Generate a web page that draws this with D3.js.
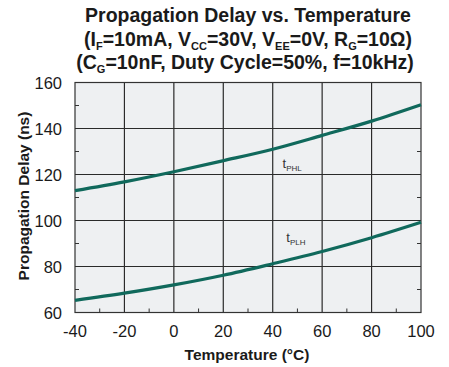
<!DOCTYPE html>
<html lang="en">
<head>
<meta charset="UTF-8">
<title>Propagation Delay vs. Temperature</title>
<script src="https://d3js.org/d3.v7.min.js"></script>
<style>
  body { margin: 0; background: #fff; }
  svg text { font-family: "Liberation Sans", Arial, sans-serif; fill: #1a1a1a; }
</style>
</head>
<body>
<svg width="449" height="367"></svg>
<script>
// data
var temps = [-40, -20, 0, 20, 40, 60, 80, 100];
var tPHL = [113, 116.8, 121.2, 126, 131, 137, 143.2, 150.3];
var tPLH = [65.3, 68.4, 72, 76.2, 81.2, 86.5, 92.5, 99.2];
var xTicks = [-40, -20, 0, 20, 40, 60, 80, 100];
var yTicks = [60, 80, 100, 120, 140, 160];
var curveLabels = [
  { main: "t", sub: "PHL", x: 44, y: 123 },
  { main: "t", sub: "PLH", x: 45.5, y: 90.8 }
];

var svg = d3.select("svg");
var m = { left: 75, right: 28, top: 82.5, bottom: 54.5 };
var W = 449 - m.left - m.right, H = 367 - m.top - m.bottom;

var x = d3.scaleLinear().domain([-40, 100]).range([0, W]);
var y = d3.scaleLinear().domain([60, 160]).range([H, 0]);

// title
var title = svg.append("text").attr("text-anchor", "middle")
  .style("font-weight", "bold").style("font-size", "19.5px");
title.append("tspan").attr("x", 248).attr("y", 22).text("Propagation Delay vs. Temperature");
var l2 = title.append("tspan").attr("x", 248).attr("y", 46);
l2.append("tspan").text("(I");
l2.append("tspan").attr("dy", 4).style("font-size", "11px").text("F");
l2.append("tspan").attr("dy", -4).text("=10mA, V");
l2.append("tspan").attr("dy", 4).style("font-size", "11px").text("CC");
l2.append("tspan").attr("dy", -4).text("=30V, V");
l2.append("tspan").attr("dy", 4).style("font-size", "11px").text("EE");
l2.append("tspan").attr("dy", -4).text("=0V, R");
l2.append("tspan").attr("dy", 4).style("font-size", "11px").text("G");
l2.append("tspan").attr("dy", -4).text("=10\u03A9)");
var l3 = title.append("tspan").attr("x", 245).attr("y", 69);
l3.append("tspan").text("(C");
l3.append("tspan").attr("dy", 4).style("font-size", "11px").text("G");
l3.append("tspan").attr("dy", -4).text("=10nF, Duty Cycle=50%, f=10kHz)");

var g = svg.append("g").attr("transform", "translate(" + m.left + "," + m.top + ")");

g.append("rect").attr("width", W).attr("height", H).attr("fill", "#eef0f2");

// grid
g.selectAll(".vg").data(xTicks.slice(1, -1)).enter().append("line")
  .attr("x1", function(d) { return x(d); }).attr("x2", function(d) { return x(d); })
  .attr("y1", 0).attr("y2", H).attr("stroke", "#2a2a2a").attr("stroke-width", 1.2);
g.selectAll(".hg").data(yTicks.slice(1, -1)).enter().append("line")
  .attr("y1", function(d) { return y(d); }).attr("y2", function(d) { return y(d); })
  .attr("x1", 0).attr("x2", W).attr("stroke", "#2a2a2a").attr("stroke-width", 1.2);

// minor ticks (inward)
var xMinor = d3.range(-30, 100, 20), yMinor = d3.range(70, 160, 20);
g.selectAll(".xm").data(xMinor).enter().append("line")
  .attr("x1", function(d) { return x(d); }).attr("x2", function(d) { return x(d); })
  .attr("y1", H).attr("y2", H - 4).attr("stroke", "#333");
g.selectAll(".ylm").data(yMinor).enter().append("line")
  .attr("y1", function(d) { return y(d); }).attr("y2", function(d) { return y(d); })
  .attr("x1", 0).attr("x2", 4).attr("stroke", "#333");
g.selectAll(".yrm").data(yMinor).enter().append("line")
  .attr("y1", function(d) { return y(d); }).attr("y2", function(d) { return y(d); })
  .attr("x1", W).attr("x2", W - 4).attr("stroke", "#333");

// frame
g.append("rect").attr("width", W).attr("height", H).attr("fill", "none")
  .attr("stroke", "#333").attr("stroke-width", 1.2);

// curves
var line = d3.line().x(function(d) { return x(d[0]); }).y(function(d) { return y(d[1]); })
  .curve(d3.curveMonotoneX);
[tPHL, tPLH].forEach(function(s) {
  g.append("path").datum(d3.zip(temps, s)).attr("d", line)
    .attr("fill", "none").attr("stroke", "#10695c").attr("stroke-width", 3.2);
});

// curve labels
curveLabels.forEach(function(c) {
  var t = g.append("text").attr("x", x(c.x)).attr("y", y(c.y)).style("font-size", "13px");
  t.append("tspan").style("fill", "#333").text(c.main);
  t.append("tspan").attr("dy", 3).style("font-size", "8px").style("fill", "#333").text(c.sub);
});

// tick labels
g.selectAll(".xl").data(xTicks).enter().append("text")
  .attr("x", function(d) { return x(d); }).attr("y", H + 24)
  .attr("text-anchor", "middle").style("font-size", "16.5px").text(function(d) { return d; });
g.selectAll(".yl").data(yTicks).enter().append("text")
  .attr("x", -13).attr("y", function(d) { return y(d) + 6; })
  .attr("text-anchor", "end").style("font-size", "16.5px").text(function(d) { return d; });

// axis titles
svg.append("text").attr("x", 247).attr("y", 360).attr("text-anchor", "middle")
  .style("font-weight", "bold").style("font-size", "15.5px").text("Temperature (\u00B0C)");
svg.append("text").attr("transform", "translate(29,196) rotate(-90)").attr("text-anchor", "middle")
  .style("font-weight", "bold").style("font-size", "15.5px").text("Propagation Delay (ns)");
</script>
</body>
</html>
